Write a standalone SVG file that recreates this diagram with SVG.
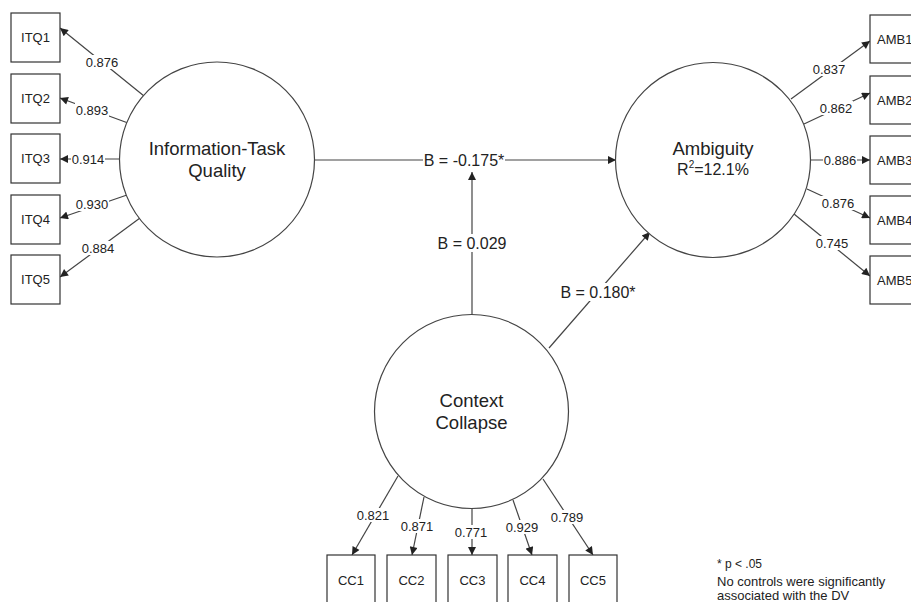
<svg xmlns="http://www.w3.org/2000/svg" width="911" height="602" viewBox="0 0 911 602">
<style>
.bg{fill:#fff}
.box{fill:#fff;stroke:#333;stroke-width:1.2}
.lat{fill:#fff;stroke:#444;stroke-width:1.2}
.ln{stroke:#444;stroke-width:1.2;fill:none}
.t{font-family:"Liberation Sans",Arial,sans-serif;fill:#222}
.bx{font-size:13px;text-anchor:middle}
.lb{font-size:13px;text-anchor:middle}
.nm{font-size:18.5px;text-anchor:middle}
.b{font-size:16px;text-anchor:middle}
.fn{font-size:13px}
.lr{fill:#fff}
</style>
<defs>
<marker id="ah" viewBox="0 0 10 10" refX="10" refY="5" markerWidth="10" markerHeight="8" markerUnits="userSpaceOnUse" orient="auto"><path d="M0,0 L10,5 L0,10 z" fill="#222"/></marker>
</defs>
<rect class="bg" x="0" y="0" width="911" height="602"/>

<g id="connectors">
<!-- ITQ loadings -->
<line class="ln" x1="144" y1="96" x2="60" y2="28" marker-end="url(#ah)"/>
<line class="ln" x1="128" y1="123" x2="60" y2="98" marker-end="url(#ah)"/>
<line class="ln" x1="120" y1="159" x2="60" y2="159" marker-end="url(#ah)"/>
<line class="ln" x1="127" y1="195" x2="60" y2="218" marker-end="url(#ah)"/>
<line class="ln" x1="140" y1="218" x2="60" y2="277" marker-end="url(#ah)"/>
<!-- AMB loadings -->
<line class="ln" x1="791" y1="99" x2="870" y2="41" marker-end="url(#ah)"/>
<line class="ln" x1="804" y1="124" x2="870" y2="93" marker-end="url(#ah)"/>
<line class="ln" x1="811" y1="160" x2="870" y2="160" marker-end="url(#ah)"/>
<line class="ln" x1="807" y1="189" x2="870" y2="218" marker-end="url(#ah)"/>
<line class="ln" x1="794" y1="214" x2="870" y2="276" marker-end="url(#ah)"/>
<!-- CC loadings -->
<line class="ln" x1="398" y1="476" x2="352" y2="555" marker-end="url(#ah)"/>
<line class="ln" x1="424" y1="497" x2="412" y2="555" marker-end="url(#ah)"/>
<line class="ln" x1="472" y1="508" x2="472" y2="555" marker-end="url(#ah)"/>
<line class="ln" x1="513" y1="500" x2="532" y2="555" marker-end="url(#ah)"/>
<line class="ln" x1="543" y1="479" x2="593" y2="555" marker-end="url(#ah)"/>
<!-- structural paths -->
<line class="ln" x1="315" y1="160" x2="616" y2="160" marker-end="url(#ah)"/>
<line class="ln" x1="472" y1="315" x2="472" y2="172" marker-end="url(#ah)"/>
<line class="ln" x1="549" y1="348" x2="650" y2="232" marker-end="url(#ah)"/>

<!-- loading labels -->
<rect class="lr" x="85" y="55" width="34" height="14"/><text class="t lb" x="102" y="66.5">0.876</text>
<rect class="lr" x="75" y="103" width="34" height="14"/><text class="t lb" x="92" y="114.5">0.893</text>
<rect class="lr" x="71" y="152" width="34" height="14"/><text class="t lb" x="88" y="163.5">0.914</text>
<rect class="lr" x="75" y="197" width="34" height="14"/><text class="t lb" x="92" y="208.5">0.930</text>
<rect class="lr" x="81" y="241" width="34" height="14"/><text class="t lb" x="98" y="252.5">0.884</text>

<rect class="lr" x="812" y="62" width="34" height="14"/><text class="t lb" x="829" y="73.5">0.837</text>
<rect class="lr" x="819" y="101" width="34" height="14"/><text class="t lb" x="836" y="112.5">0.862</text>
<rect class="lr" x="823" y="153" width="34" height="14"/><text class="t lb" x="840" y="164.5">0.886</text>
<rect class="lr" x="821" y="196" width="34" height="14"/><text class="t lb" x="838" y="207.5">0.876</text>
<rect class="lr" x="815" y="236" width="34" height="14"/><text class="t lb" x="832" y="247.5">0.745</text>

<rect class="lr" x="356" y="508" width="34" height="14"/><text class="t lb" x="373" y="519.5">0.821</text>
<rect class="lr" x="400" y="519" width="34" height="14"/><text class="t lb" x="417" y="530.5">0.871</text>
<rect class="lr" x="454" y="525" width="34" height="14"/><text class="t lb" x="471" y="536.5">0.771</text>
<rect class="lr" x="505" y="520" width="34" height="14"/><text class="t lb" x="522" y="531.5">0.929</text>
<rect class="lr" x="550" y="510" width="34" height="14"/><text class="t lb" x="567" y="521.5">0.789</text>

<!-- path labels -->
<rect class="lr" x="423" y="151" width="82" height="18"/><text class="t b" x="464" y="165.7">B = -0.175*</text>
<rect class="lr" x="436" y="234" width="72" height="18"/><text class="t b" x="472" y="248.7">B = 0.029</text>
<rect class="lr" x="558" y="283" width="80" height="18"/><text class="t b" x="598" y="297.7">B = 0.180*</text>
</g>

<g id="ITQ">
<circle class="lat" cx="217" cy="159.5" r="97.5"/>
<text class="t nm" x="217" y="155">Information-Task</text>
<text class="t nm" x="217" y="177">Quality</text>
</g>
<g id="AMB">
<circle class="lat" cx="713" cy="160" r="97.5"/>
<text class="t nm" x="713" y="155">Ambiguity</text>
<text class="t" x="713" y="175" font-size="16" text-anchor="middle">R<tspan font-size="10" dy="-7">2</tspan><tspan dy="7">=12.1%</tspan></text>
</g>
<g id="CC">
<circle class="lat" cx="471.5" cy="411.5" r="97"/>
<text class="t nm" x="471.5" y="407">Context</text>
<text class="t nm" x="471.5" y="429">Collapse</text>
</g>

<g id="ITQ1"><rect class="box" x="11" y="13" width="49" height="49"/><text class="t bx" x="35.5" y="42">ITQ1</text></g>
<g id="ITQ2"><rect class="box" x="11" y="74" width="49" height="49"/><text class="t bx" x="35.5" y="103">ITQ2</text></g>
<g id="ITQ3"><rect class="box" x="11" y="134" width="49" height="49"/><text class="t bx" x="35.5" y="163">ITQ3</text></g>
<g id="ITQ4"><rect class="box" x="11" y="195" width="49" height="49"/><text class="t bx" x="35.5" y="224">ITQ4</text></g>
<g id="ITQ5"><rect class="box" x="11" y="255" width="49" height="49"/><text class="t bx" x="35.5" y="284">ITQ5</text></g>

<g id="AMB1"><rect class="box" x="870" y="15" width="49" height="48"/><text class="t" font-size="13" x="877" y="43.5">AMB1</text></g>
<g id="AMB2"><rect class="box" x="870" y="76" width="49" height="48"/><text class="t" font-size="13" x="877" y="104.5">AMB2</text></g>
<g id="AMB3"><rect class="box" x="870" y="136" width="49" height="48"/><text class="t" font-size="13" x="877" y="164.5">AMB3</text></g>
<g id="AMB4"><rect class="box" x="870" y="196" width="49" height="48"/><text class="t" font-size="13" x="877" y="224.5">AMB4</text></g>
<g id="AMB5"><rect class="box" x="870" y="256" width="49" height="48"/><text class="t" font-size="13" x="877" y="284.5">AMB5</text></g>

<g id="CC1"><rect class="box" x="327" y="555" width="48" height="50"/><text class="t bx" x="351" y="584.5">CC1</text></g>
<g id="CC2"><rect class="box" x="387" y="555" width="49" height="50"/><text class="t bx" x="411.5" y="584.5">CC2</text></g>
<g id="CC3"><rect class="box" x="448" y="555" width="49" height="50"/><text class="t bx" x="472.5" y="584.5">CC3</text></g>
<g id="CC4"><rect class="box" x="508" y="555" width="49" height="50"/><text class="t bx" x="532.5" y="584.5">CC4</text></g>
<g id="CC5"><rect class="box" x="569" y="555" width="48" height="50"/><text class="t bx" x="593" y="584.5">CC5</text></g>

<g id="note">
<text class="t" font-size="12" x="717" y="568">* p &lt; .05</text>
<text class="t fn" x="717" y="586">No controls were significantly</text>
<text class="t fn" x="717" y="599.5">associated with the DV</text>
</g>
</svg>
